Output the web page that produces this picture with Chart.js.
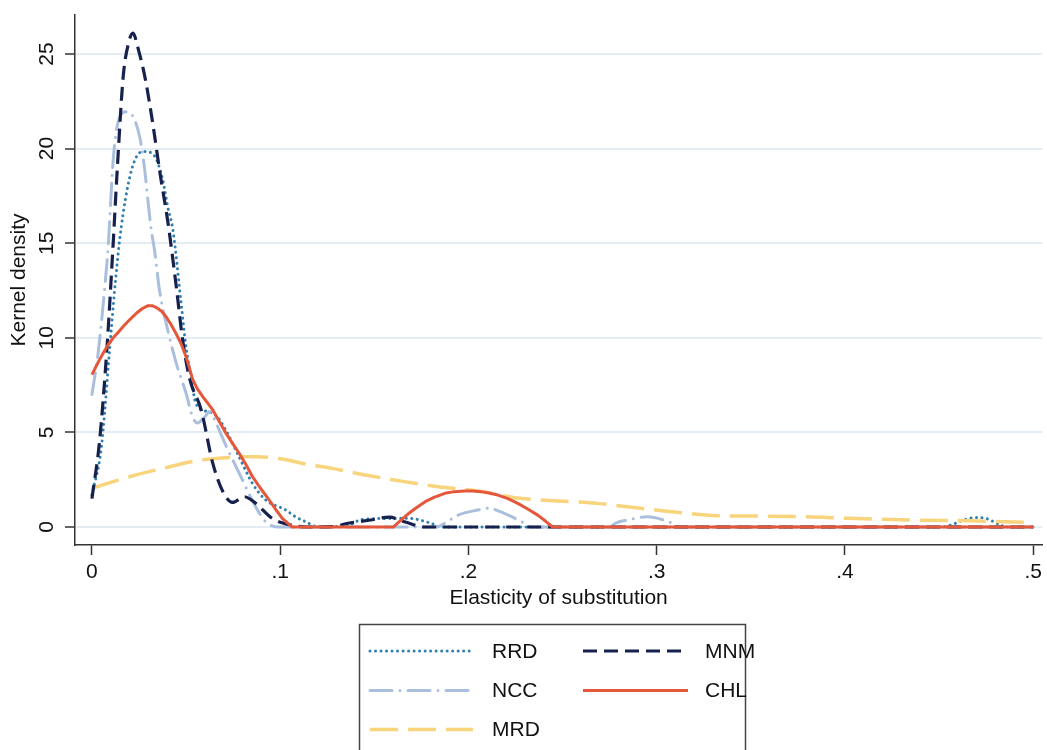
<!DOCTYPE html>
<html>
<head>
<meta charset="utf-8">
<script src="https://cdn.jsdelivr.net/npm/chart.js@4.4.0/dist/chart.umd.min.js"></script>
<style>
  body { margin: 0; background: #fff; }
  canvas { display: block; }
</style>
</head>
<body>
<canvas id="myChart" width="1047" height="750"></canvas>
<script>
// kernel density of the elasticity, one pair of arrays per group
const rrdX = [0, .005, .0095, .0125, .0155, .0201, .0245, .028, .0333, .0377, .0403, .043, .0474, .05, .0527, .0553, .0615, .0659, .0712, .0782, .0853, .0923, .1029, .108, .1135, .12, .135, .1434, .155, .168, .18, .185, .45, .456, .463, .469, .4746, .48, .4826, .487, .5];
const rrdY = [1.7, 4.2, 9.5, 13.0, 15.8, 18.5, 19.7, 19.85, 19.6, 18.3, 16.9, 15.7, 11.8, 9.5, 7.9, 6.5, 6.1, 5.9, 5.1, 3.7, 2.3, 1.43, 0.9, 0.55, 0.28, 0.02, 0.05, 0.4, 0.45, 0.46, 0.2, 0, 0, 0.1, 0.37, 0.5, 0.46, 0.23, 0.1, 0, 0];

const nccX = [0, .0033, .006, .0086, .0113, .0139, .0183, .0218, .0254, .028, .0298, .0315, .0333, .0359, .0403, .0448, .05, .0535, .0562, .0597, .0625, .0659, .0712, .0765, .0818, .087, .0923, .0994, .183, .1874, .1945, .205, .2104, .219, .2297, .2333, .275, .278, .2844, .295, .3037, .309, .312, .5];
const nccY = [7.0, 9.2, 11.8, 14.8, 19.4, 21.4, 21.95, 21.7, 20.6, 18.9, 17.2, 15.7, 14.6, 12.5, 10.4, 8.65, 7.07, 5.8, 5.5, 5.8, 6.1, 5.5, 4.3, 3.2, 2.1, 1.07, 0.28, 0, 0, 0.2, 0.63, 0.9, 0.99, 0.72, 0.2, 0, 0, 0.2, 0.37, 0.54, 0.37, 0.16, 0, 0];

const mrdX = [0, .0201, .0377, .0553, .0729, .087, .0994, .1152, .1276, .1452, .1628, .1839, .205, .2245, .2474, .2685, .2914, .3125, .3319, .353, .3795, .4024, .4358, .4711, .5];
const mrdY = [2.05, 2.66, 3.1, 3.5, 3.68, 3.72, 3.62, 3.3, 3.1, 2.75, 2.45, 2.13, 1.9, 1.55, 1.38, 1.25, 0.99, 0.76, 0.6, 0.58, 0.54, 0.46, 0.37, 0.32, 0.23];

const mnmX = [0, .004, .008, .011, .0135, .0166, .0195, .0218, .0245, .0285, .0325, .036, .0405, .0448, .0483, .052, .058, .0641, .0694, .0747, .081, .087, .0958, .106, .115, .128, .136, .148, .158, .166, .177, .5];
const mnmY = [1.5, 4.5, 9.5, 14.5, 19.0, 23.8, 25.6, 26.1, 25.3, 23.6, 21.2, 18.8, 16.0, 12.7, 9.8, 7.8, 6.2, 3.4, 1.9, 1.3, 1.6, 1.25, 0.45, 0.1, 0, 0.02, 0.2, 0.37, 0.52, 0.28, 0, 0];

const chlX = [0, .003, .006, .0085, .0113, .014, .0166, .02, .0236, .0268, .0298, .032, .0342, .037, .0395, .042, .0448, .0475, .05, .0518, .0535, .056, .0588, .0615, .0641, .0675, .0712, .0745, .0782, .0818, .0853, .0895, .0941, .0975, .1011, .1064,
              .16, .164, .168, .1725, .177, .182, .1875, .1925, .198, .2025, .2068, .211, .2156, .221, .2262, .2315, .2368, .2407, .2447, .5];
const chlY = [8.05, 8.65, 9.2, 9.62, 10.0, 10.3, 10.6, 10.95, 11.3, 11.55, 11.7, 11.7, 11.6, 11.4, 11.1, 10.7, 10.2, 9.65, 9.0, 8.4, 7.8, 7.3, 6.9, 6.55, 6.2, 5.6, 4.95, 4.45, 3.9, 3.3, 2.66, 2.05, 1.43, 0.95, 0.46, 0,
              0, 0.35, 0.7, 1.03, 1.34, 1.58, 1.78, 1.87, 1.9, 1.9, 1.87, 1.8, 1.69, 1.5, 1.25, 0.95, 0.63, 0.33, 0, 0];

const xTicks = [0, 0.1, 0.2, 0.3, 0.4, 0.5];
const xTickLabels = ['0', '.1', '.2', '.3', '.4', '.5'];
const yTicks = [0, 5, 10, 15, 20, 25];

const FONT = '"Liberation Sans", Arial, Helvetica, sans-serif';

function pts(xs, ys) {
    return xs.map((x, i) => ({ x: x, y: ys[i] }));
}

const groups = [
    { label: 'RRD', data: pts(rrdX, rrdY), borderColor: '#2d7fb0', borderWidth: 3, borderDash: [0.01, 5.5], borderCapStyle: 'round', order: 5 },
    { label: 'NCC', data: pts(nccX, nccY), borderColor: '#a9bfdd', borderWidth: 3, borderDash: [22, 8, 0.01, 8], borderCapStyle: 'round', order: 4 },
    { label: 'MRD', data: pts(mrdX, mrdY), borderColor: '#f8d47c', borderWidth: 3.5, borderDash: [28, 10], borderCapStyle: 'butt', order: 3 },
    { label: 'MNM', data: pts(mnmX, mnmY), borderColor: '#16214d', borderWidth: 3.2, borderDash: [14, 7], borderCapStyle: 'butt', order: 2 },
    // CHL has hard corners where it meets zero, so straight segments
    { label: 'CHL', data: pts(chlX, chlY), borderColor: '#e5573a', borderWidth: 3, borderDash: [], borderCapStyle: 'butt', order: 1,
      cubicInterpolationMode: 'default', tension: 0 }
];

// where each legend entry goes: [line start, line end, text x, row y]
const legendSlots = {
    RRD: [370, 473, 492, 651],
    NCC: [370, 473, 492, 690.5],
    MRD: [370, 473, 492, 729.5],
    MNM: [583, 688, 705, 651],
    CHL: [583, 688, 705, 690.5]
};

// rotated y tick labels, stata style
const yLabelsPlugin = {
    id: 'yLabels',
    afterDraw(chart) {
        const ctx = chart.ctx;
        const scale = chart.scales.y;
        ctx.save();
        ctx.fillStyle = '#111';
        ctx.font = '21px ' + FONT;
        ctx.textAlign = 'center';
        ctx.textBaseline = 'alphabetic';
        yTicks.forEach(v => {
            const py = scale.getPixelForValue(v);
            ctx.save();
            ctx.translate(53, py);
            ctx.rotate(-Math.PI / 2);
            ctx.fillText(String(v), 0, 0);
            ctx.restore();
        });
        ctx.restore();
    }
};

// boxed two-column legend under the plot
const boxLegend = {
    id: 'boxLegend',
    afterDraw(chart) {
        const ctx = chart.ctx;
        ctx.save();
        ctx.strokeStyle = '#444';
        ctx.lineWidth = 1.5;
        ctx.strokeRect(359.5, 624.5, 386, 140);
        ctx.font = '21px ' + FONT;
        ctx.textBaseline = 'middle';
        ctx.textAlign = 'left';
        chart.data.datasets.forEach(ds => {
            const s = legendSlots[ds.label];
            ctx.save();
            ctx.strokeStyle = ds.borderColor;
            ctx.lineWidth = ds.borderWidth;
            ctx.lineCap = ds.borderCapStyle;
            ctx.setLineDash(ds.borderDash);
            ctx.beginPath();
            ctx.moveTo(s[0], s[3]);
            ctx.lineTo(s[1], s[3]);
            ctx.stroke();
            ctx.restore();
            ctx.fillStyle = '#111';
            ctx.fillText(ds.label, s[2], s[3] + 1);
        });
        ctx.restore();
    }
};

const canvas = document.getElementById('myChart');
const myChart = new Chart(canvas, {
    type: 'line',
    data: {
        datasets: groups.map(g => Object.assign({
            fill: false,
            pointRadius: 0,
            pointHoverRadius: 0,
            cubicInterpolationMode: 'monotone',
            borderJoinStyle: 'round'
        }, g))
    },
    options: {
        responsive: false,
        animation: false,
        devicePixelRatio: 1,
        layout: { padding: { top: 15, right: 0, left: 0, bottom: 130 } },
        plugins: {
            legend: { display: false },
            tooltip: { enabled: false }
        },
        scales: {
            x: {
                type: 'linear',
                min: -0.009,
                max: 0.5048,
                afterBuildTicks: s => { s.ticks = xTicks.map(v => ({ value: v })); },
                afterFit: s => { s.height = 75; },
                ticks: {
                    autoSkip: false,
                    maxRotation: 0,
                    padding: 5,
                    color: '#111',
                    font: { family: FONT, size: 21 },
                    callback: v => xTickLabels[xTicks.indexOf(v)]
                },
                grid: {
                    display: true,
                    drawOnChartArea: false,
                    drawTicks: true,
                    tickLength: 10,
                    tickColor: '#333',
                    tickWidth: 1.5
                },
                border: { display: true, color: '#333', width: 1.5 },
                title: {
                    display: true,
                    text: 'Elasticity of substitution',
                    color: '#111',
                    font: { family: FONT, size: 21 },
                    padding: { top: 0, bottom: 9 }
                }
            },
            y: {
                type: 'linear',
                min: -0.95,
                max: 27.06,
                afterBuildTicks: s => { s.ticks = yTicks.map(v => ({ value: v })); },
                afterFit: s => { s.width = 75; },
                ticks: { display: false },
                grid: {
                    display: true,
                    drawOnChartArea: true,
                    drawTicks: true,
                    color: '#e4ecf4',
                    lineWidth: 2,
                    tickLength: 10,
                    tickColor: '#333',
                    tickWidth: 1.5
                },
                border: { display: true, color: '#333', width: 1.5 },
                title: {
                    display: true,
                    text: 'Kernel density',
                    color: '#111',
                    font: { family: FONT, size: 21 },
                    padding: { top: 7, bottom: 0 }
                }
            }
        }
    },
    plugins: [yLabelsPlugin, boxLegend]
});
</script>
</body>
</html>
